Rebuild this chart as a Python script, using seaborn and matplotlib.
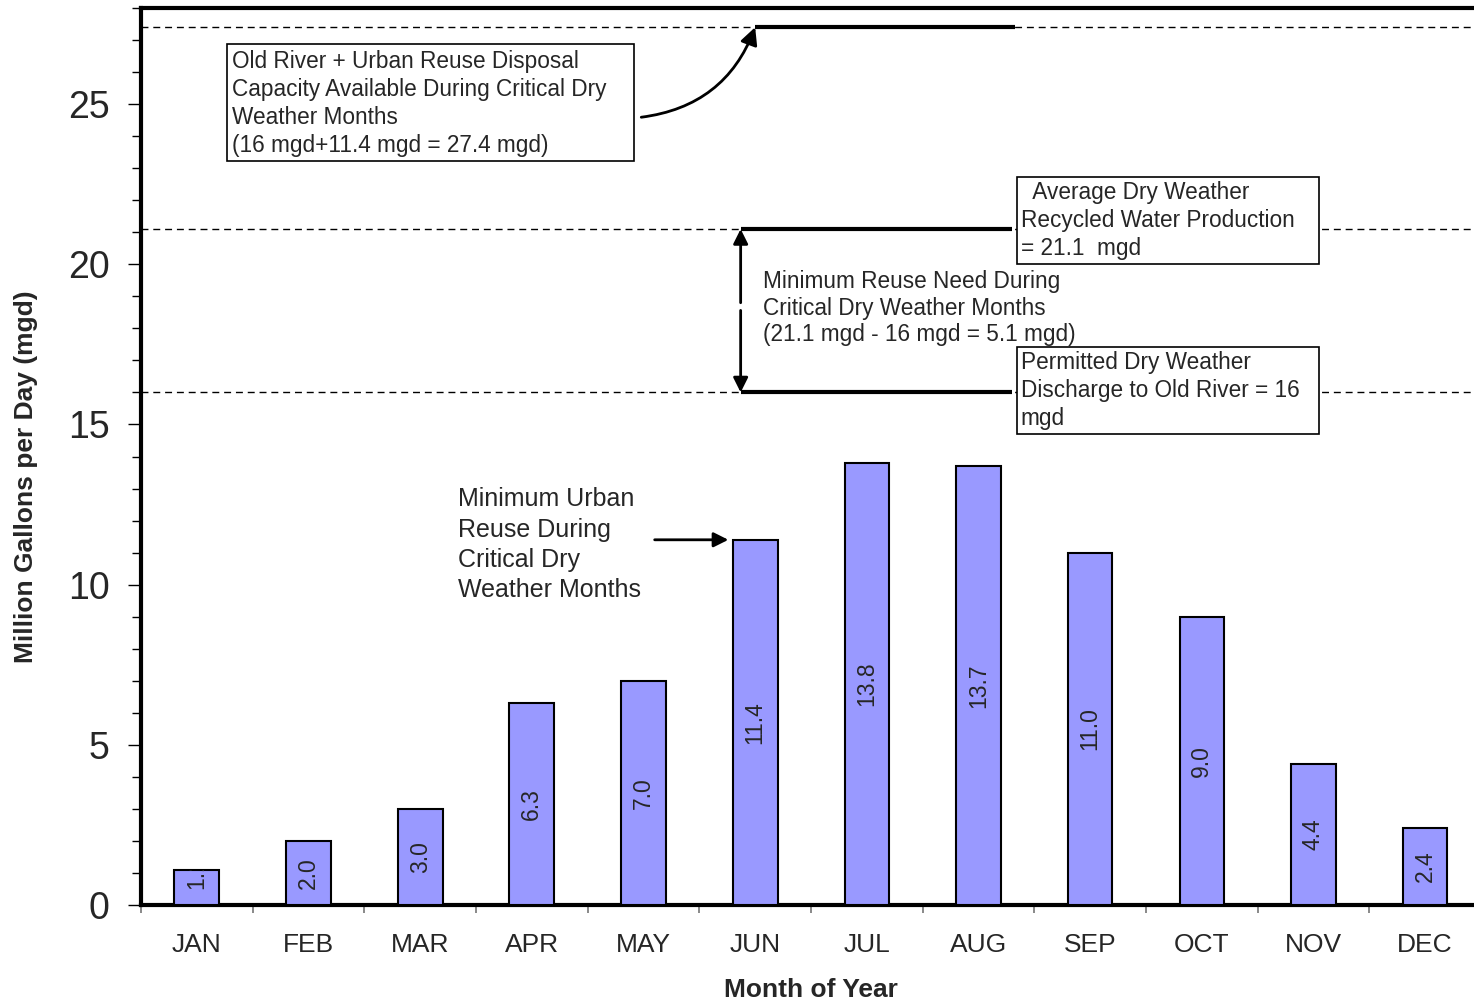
import matplotlib
matplotlib.use("Agg")
import matplotlib.pyplot as plt
import numpy as np
import seaborn as sns
from matplotlib.patches import Rectangle
from matplotlib.ticker import MultipleLocator, FixedLocator, NullFormatter

# Monthly minimum urban reuse (mgd)
months = ["JAN", "FEB", "MAR", "APR", "MAY", "JUN",
          "JUL", "AUG", "SEP", "OCT", "NOV", "DEC"]
urban_reuse = [1.1, 2.0, 3.0, 6.3, 7.0, 11.4, 13.8, 13.7, 11.0, 9.0, 4.4, 2.4]

# Reference levels (mgd)
old_river_permit = 16.0
avg_production = 21.1
min_urban_reuse = urban_reuse[months.index("JUN")]
disposal_capacity = round(old_river_permit + min_urban_reuse, 1)

sns.set_style("ticks")
plt.rcParams["font.family"] = ["Liberation Sans", "DejaVu Sans"]

fig = plt.figure(figsize=(14.74, 10.01), dpi=100)
ax = fig.add_axes([141 / 1474, 96 / 1001, 1340 / 1474, 897 / 1001])

sns.barplot(x=months, y=urban_reuse, ax=ax, width=0.4, color="#9999FF",
            saturation=1, edgecolor="black", linewidth=1.5, zorder=3)

ax.set_xlim(-0.5, 11.5)
ax.set_ylim(0, 28)

# Axis frame
for side in ["top", "left", "bottom"]:
    ax.spines[side].set_linewidth(3)
    ax.spines[side].set_color("black")
ax.spines["right"].set_visible(False)

# Ticks
ax.yaxis.set_major_locator(MultipleLocator(5))
ax.yaxis.set_minor_locator(MultipleLocator(1))
ax.tick_params(axis="y", which="major", length=9.5, width=1, labelsize=27,
               pad=13, direction="out", color="black")
ax.tick_params(axis="y", which="minor", length=6.5, width=1,
               direction="out", color="black")
ax.xaxis.set_minor_locator(FixedLocator(np.arange(-0.5, 12, 1)))
ax.xaxis.set_minor_formatter(NullFormatter())
ax.tick_params(axis="x", which="major", length=0, labelsize=19, pad=20)
ax.tick_params(axis="x", which="minor", length=6, width=1.3,
               direction="out", color="#808080")

ax.set_xlabel("Month of Year", fontsize=19, fontweight="bold")
ax.set_ylabel("Million Gallons per Day (mgd)", fontsize=19, fontweight="bold")
ax.xaxis.set_label_coords(0.5, -0.0945)
ax.xaxis.label.set_va("center")
ax.yaxis.set_label_coords(-0.0855, 0.477)
ax.yaxis.label.set_va("center")

# Value labels inside the bars, clipped to each bar
for bar, v in zip(ax.patches, urban_reuse):
    cx = bar.get_x() + bar.get_width() / 2
    cy = max(v / 2, 1.0)
    t = ax.text(cx, cy, f"{v:.1f}", rotation=90, ha="center", va="center",
                fontsize=16.5, zorder=4, clip_on=True)
    t.set_clip_path(bar)

# Dashed reference levels across the chart
dash = (0, (5, 3.5))
for level in [disposal_capacity, avg_production, old_river_permit]:
    ax.axhline(level, color="black", lw=1, ls=dash, zorder=1)

# Solid highlights of the levels during the critical months
ax.hlines(disposal_capacity, 5.0, 7.33, color="black", lw=3, zorder=2)
ax.hlines([avg_production, old_river_permit], 4.87, 7.30,
          color="black", lw=3, zorder=2)

# Text boxes
box_style = dict(facecolor="white", edgecolor="black", lw=1.2, zorder=5)
ax.add_patch(Rectangle((0.269, 23.22), 3.645, 3.655, **box_style))
ax.add_patch(Rectangle((7.345, 20.0), 2.705, 2.72, **box_style))
ax.add_patch(Rectangle((7.345, 14.69), 2.705, 2.72, **box_style))

txt = dict(fontsize=16.3, ha="left", va="center", linespacing=1.28, zorder=6)
ax.text(0.314, 25.03,
        "Old River + Urban Reuse Disposal\n"
        "Capacity Available During Critical Dry\n"
        "Weather Months\n"
        f"({old_river_permit:.0f} mgd+{min_urban_reuse} mgd = {disposal_capacity} mgd)",
        **txt)
ax.text(7.38, 21.37,
        "  Average Dry Weather\nRecycled Water Production\n"
        f"= {avg_production}  mgd", **txt)
ax.text(7.38, 16.06,
        "Permitted Dry Weather\n"
        f"Discharge to Old River = {old_river_permit:.0f}\nmgd", **txt)
ax.text(5.07, 18.63,
        "Minimum Reuse Need During\nCritical Dry Weather Months\n"
        f"({avg_production} mgd - {old_river_permit:.0f} mgd = "
        f"{avg_production - old_river_permit:.1f} mgd)",
        fontsize=16.3, ha="left", va="center", linespacing=1.18, zorder=6)
ax.text(2.338, 11.25,
        "Minimum Urban\nReuse During\nCritical Dry\nWeather Months",
        fontsize=18, ha="left", va="center", linespacing=1.32, zorder=6)

# Arrows
arrow = dict(arrowstyle="-|>", color="black", lw=2, shrinkA=0, shrinkB=0,
             mutation_scale=22)
ax.annotate("", xy=(5.0, disposal_capacity), xytext=(3.98, 24.59),
            arrowprops=dict(arrow, connectionstyle="arc3,rad=0.3",
                            mutation_scale=26), zorder=6)
ax.annotate("", xy=(4.76, min_urban_reuse), xytext=(4.10, min_urban_reuse),
            arrowprops=arrow, zorder=6)
ax.annotate("", xy=(4.87, avg_production), xytext=(4.87, 18.8),
            arrowprops=arrow, zorder=6)
ax.annotate("", xy=(4.87, old_river_permit), xytext=(4.87, 18.56),
            arrowprops=arrow, zorder=6)

fig.savefig("out.png", dpi=100)
